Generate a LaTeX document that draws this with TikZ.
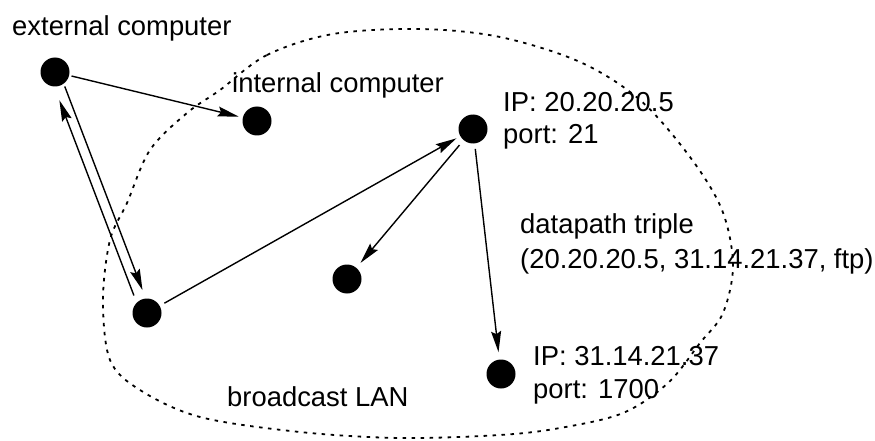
\documentclass[tikz,border=0pt]{standalone}
\usepackage{fontspec}
\setmainfont{Liberation Sans}
\usetikzlibrary{arrows.meta,calc}
\begin{document}
\begin{tikzpicture}[x=1pt,y=-1pt,
  dot/.style={circle,fill=black,inner sep=0pt,minimum size=29pt},
  lbl/.style={anchor=base west,inner sep=0pt,font=\fontsize{27.4}{31}\selectfont},
  arr/.style={line width=1.4pt,-{Stealth[length=21pt,width=10pt,inset=3pt]}},
  lan/.style={line width=1.8pt,dash pattern=on 3.5pt off 5.5pt}]
\useasboundingbox (0,0) rectangle (875,441);
% LAN boundary
\draw[lan] plot[smooth cycle,tension=0.55] coordinates {
 (220,90) (267,55) (333,34) (420,29) (500,37) (580,62) (640,100) (690,157)
 (722,210) (733,265) (723,313) (700,343) (668,383) (623,413) (560,428)
 (500,435) (400,438) (300,432) (200,417) (140,390) (110,360) (103,300)
 (110,240) (127,203) (150,150) (187,113)};
% nodes
\node[dot] (ext) at (55,72) {};
\node[dot] (int) at (257,121) {};
\node[dot] (srv) at (473,129) {};
\node[dot] (b) at (147,313) {};
\node[dot] (c) at (347,279) {};
\node[dot] (d) at (501,374) {};
% labels
\node[lbl] (t1) at (12,36) {external computer};
\node[lbl] (t2) at (232,93) {internal computer};
\node[lbl] (t3) at (503,112) {IP: 20.20.20.5};
\node[lbl] (t4) at (503,143) {port: 21};
\node[lbl] (t5) at (520,233) {datapath triple};
\node[lbl] (t6) at (520,268) {(20.20.20.5, 31.14.21.37, ftp)};
\node[lbl] (t7) at (533,365) {IP: 31.14.21.37};
\node[lbl] (t8) at (533,398) {port: 1700};
\node[lbl] (t9) at (227,406) {broadcast LAN};
% connectors
\draw[arr] ($(ext)!17pt!(int)$) -- ($(int)!19pt!(ext)$);
\draw[arr] ($(b)!21pt!(ext)+(-5.6,2.1)$) -- ($(ext)!28pt!(b)+(-5.6,2.1)$);
\draw[arr] ($(ext)!17pt!(b)+(3.7,-1.4)$) -- ($(b)!23pt!(ext)+(3.7,-1.4)$);
\draw[arr] ($(b)!20pt!(srv)$) -- ($(srv)!19pt!(b)$);
\draw[arr] ($(srv)!21pt!(c)$) -- ($(c)!21pt!(srv)$);
\draw[arr] ($(srv)!20pt!(d)$) -- ($(d)!22pt!(srv)$);
\end{tikzpicture}
\end{document}
